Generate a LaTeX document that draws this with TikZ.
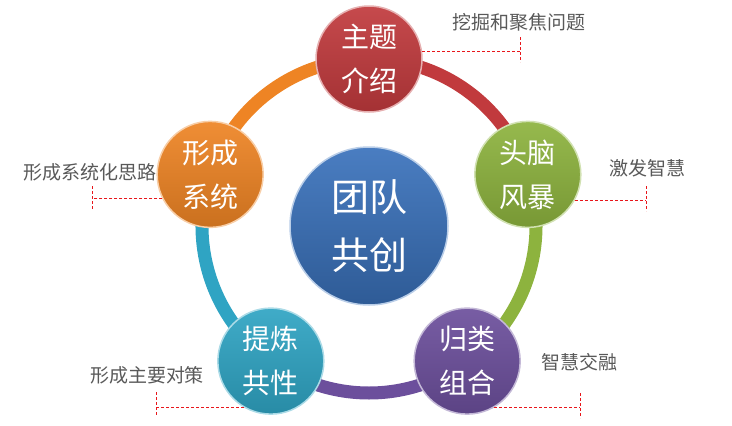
\documentclass[tikz,border=0pt]{standalone}
\usepackage{fontspec}
\setmainfont{Noto Sans CJK SC}
\usepackage{tikz}
\usetikzlibrary{positioning, calc, backgrounds}
\definecolor{hubblue}{HTML}{3A72BC}
\definecolor{topicred}{HTML}{C13A3D}
\definecolor{stormgreen}{HTML}{8DB33E}
\definecolor{groupviolet}{HTML}{6C4F9C}
\definecolor{refinecyan}{HTML}{2FA4C3}
\definecolor{systemorange}{HTML}{EE8424}
\definecolor{notegray}{HTML}{595959}
\definecolor{leadred}{HTML}{E8161B}

\begin{document}
\begin{tikzpicture}[x=1pt, y=-1pt,
        hub/.style={circle, minimum size=158pt, inner sep=0pt, align=center, text=white, font=\fontsize{38}{58}\selectfont, line width=1.5pt},
        petal/.style={circle, minimum size=106pt, inner sep=0pt, align=center, text=white, font=\fontsize{28}{44}\selectfont, line width=1.5pt},
        ring/.style={line width=13pt},
        note/.style={font=\fontsize{19}{22}\selectfont, text=notegray},
        lead/.style={leadred, densely dashed, line width=1pt}
    ]
        \useasboundingbox (0,0) rectangle (732,426);
        \coordinate (c) at (369,226);

        \node (hub) [hub, top color=hubblue!92!white, bottom color=hubblue!80!black, draw=hubblue!35!white] at (c) {团队\\共创};

        \node (topic) [petal, top color=topicred!92!white, bottom color=topicred!85!black, draw=topicred!40!white] at ($(c)+(90:167pt)$) {主题\\介绍};
        \node (storm) [petal, top color=stormgreen!92!white, bottom color=stormgreen!85!black, draw=stormgreen!40!white] at ($(c)+(18:167pt)$) {头脑\\风暴};
        \node (group) [petal, top color=groupviolet!92!white, bottom color=groupviolet!85!black, draw=groupviolet!40!white] at ($(c)+(-54:167pt)$) {归类\\组合};
        \node (refine) [petal, top color=refinecyan!92!white, bottom color=refinecyan!85!black, draw=refinecyan!40!white] at ($(c)+(-126:167pt)$) {提炼\\共性};
        \node (system) [petal, top color=systemorange!92!white, bottom color=systemorange!85!black, draw=systemorange!40!white] at ($(c)+(162:167pt)$) {形成\\系统};

        \begin{scope}[on background layer]
            \draw [ring, topicred] (topic.center) arc[start angle=90, end angle=18, radius=167pt];
            \draw [ring, stormgreen] (storm.center) arc[start angle=18, end angle=-54, radius=167pt];
            \draw [ring, groupviolet] (group.center) arc[start angle=-54, end angle=-126, radius=167pt];
            \draw [ring, refinecyan] (refine.center) arc[start angle=-126, end angle=-198, radius=167pt];
            \draw [ring, systemorange] (system.center) arc[start angle=162, end angle=90, radius=167pt];
        \end{scope}

        % leaders and notes
        \coordinate (t1) at (520,52);
        \coordinate (t2) at (646,200);
        \coordinate (t3) at (580,407);
        \coordinate (t4) at (156,407);
        \coordinate (t5) at (92,198);

        \draw [lead] (topic.8) -- (topic.8 -| t1);
        \draw [lead] ($(t1)+(0,-15)$) -- ($(t1)+(0,10)$);
        \draw [lead] (storm.-29) -- (storm.-29 -| t2);
        \draw [lead] ($(t2)+(0,-14)$) -- ($(t2)+(0,11)$);
        \draw [lead] (group.-60) -- (group.-60 -| t3);
        \draw [lead] ($(t3)+(0,-14)$) -- ($(t3)+(0,11)$);
        \draw [lead] (refine.-120) -- (refine.-120 -| t4);
        \draw [lead] ($(t4)+(0,-15)$) -- ($(t4)+(0,9)$);
        \draw [lead] (system.-153) -- (system.-153 -| t5);
        \draw [lead] ($(t5)+(0,-12)$) -- ($(t5)+(0,11)$);

        \node (n1) [note] at (519,22) {挖掘和聚焦问题};
        \node (n2) [note] at (647,168) {激发智慧};
        \node (n3) [note] at (579,362) {智慧交融};
        \node (n4) [note] at (147,375) {形成主要对策};
        \node (n5) [note] at (90,172) {形成系统化思路};
    \end{tikzpicture}
\end{document}
